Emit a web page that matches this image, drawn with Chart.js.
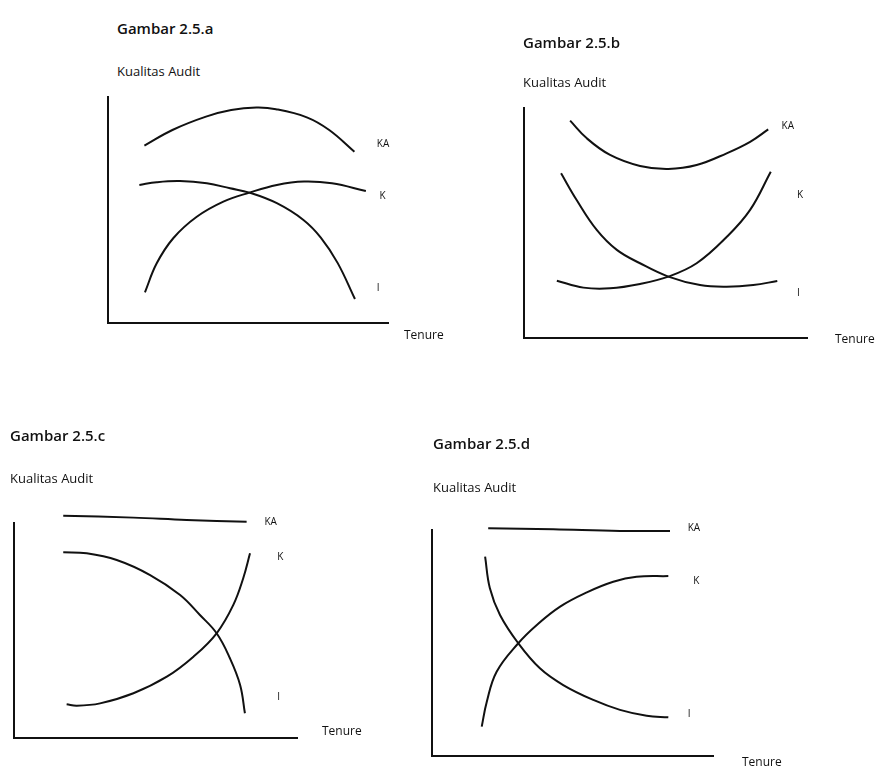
<!DOCTYPE html>
<html lang="id">
<head>
<meta charset="utf-8">
<title>Gambar 2.5 Kualitas Audit dan Tenure</title>
<script src="https://cdn.jsdelivr.net/npm/chart.js@4.4.0/dist/chart.umd.min.js"></script>
<style>
  html, body { margin: 0; padding: 0; background: #fff; }
  #page { position: relative; width: 891px; height: 771px; overflow: hidden; font-family: "Open Sans", sans-serif; color: #111; }
  #page canvas { position: absolute; left: 0; top: 0; }
  .judul, .sumbu { position: absolute; line-height: 1; white-space: nowrap; transform: translateY(-50%); }
  .judul { font-size: 15px; font-weight: 600; }
  .sumbu { font-size: 13px; }
</style>
</head>
<body>
<div id="page"></div>
<script>
  // nama kurva: kualitas audit, kompetensi, independensi
  const namaKurva = ["KA", "K", "I"];

  // Gambar 2.5.a  (x = tenure, y = tingkat, skala 0-100)
  const aKA = [[13, 78.5], [23, 85.4], [35, 91.3], [44, 94.2], [53, 95.3], [60, 94.6], [71, 91], [79, 85.4], [88, 75.8]];
  const aK = [[13.2, 13.6], [17.4, 26.4], [23.3, 37.5], [31.7, 47], [41.2, 53.7], [50.5, 57.7], [60.3, 61.1], [70, 62.6], [80, 61.8], [92.1, 58.4]];
  const aI = [[11.2, 61.1], [17.4, 62.3], [25.7, 62.8], [35.3, 61.8], [43.6, 59.6], [50.5, 57.7], [60.3, 53], [69.8, 45.6], [76, 37.8], [82, 26.6], [88.2, 10.6]];

  // Gambar 2.5.b
  const bKA = [[16.3, 94.5], [22.2, 86.8], [30.4, 79.6], [41, 74.8], [51, 73.5], [61, 75.2], [71.6, 80.3], [79.9, 85.3], [86.3, 90.7]];
  const bK = [[11.6, 24.9], [21, 21.9], [30.4, 21.6], [41, 23.5], [51, 26.7], [61, 32.5], [71.6, 43.9], [79.9, 55.7], [87.2, 72.3]];
  const bI = [[13.1, 71.6], [18.6, 60], [25.7, 47], [32.8, 38.3], [41, 32.5], [51, 26.7], [62.2, 23], [71.6, 22.3], [81, 23], [89.5, 24.8]];

  // Gambar 2.5.c
  const cKA = [[17.4, 103.4], [42.2, 102.5], [61, 101.4], [82.2, 100.6]];
  const cK = [[18.6, 15.7], [22.2, 15], [30.4, 16.1], [42.2, 20.8], [54, 28.5], [63.4, 37.8], [71.6, 48.7], [77.5, 61.9], [81, 74.3], [83.4, 85.9]];
  const cI = [[17.4, 86.4], [25.7, 85.9], [36.3, 82.8], [48.1, 75.8], [58.7, 66.5], [65.7, 57.2], [71.6, 48.7], [76.3, 37.1], [79.9, 24.7], [81.6, 11.5]];

  // Gambar 2.5.d
  const dKA = [[20, 100.8], [43.2, 100.3], [66.9, 99.6], [84.7, 99.6]];
  const dK = [[17.7, 13], [19.5, 24], [23, 37.3], [30.7, 49.9], [37.3, 58], [45.6, 66.1], [55.1, 72.4], [64.5, 77.1], [72.8, 79.3], [84.1, 79.6]];
  const dI = [[18.9, 88.2], [20.6, 74.2], [24.2, 62.4], [30.7, 49.9], [38.4, 38.8], [46.7, 31.4], [57.4, 24.8], [66.9, 20.4], [76.4, 17.8], [84.1, 17.1]];

  const W = 891, H = 771;

  // letak tiap panel di halaman: kotak sumbu [kiri, atas, kanan, bawah], judul, label kurva, "Tenure"
  const panel = [
    { judul: "Gambar 2.5.a", kurva: [aKA, aK, aI], kotak: [108, 97, 388, 323], posJudul: [117, 28], posSub: [117, 71],
      tag: [[96, 79], [97, 56], [96, 15.5]], tenure: [404, 336] },
    { judul: "Gambar 2.5.b", kurva: [bKA, bK, bI], kotak: [524, 108, 807, 338], posJudul: [523, 42], posSub: [523, 82],
      tag: [[91, 92], [96.5, 62], [96.5, 19.6]], tenure: [835, 340] },
    { judul: "Gambar 2.5.c", kurva: [cKA, cK, cI], kotak: [14, 523, 297, 738], posJudul: [10, 435], posSub: [10, 478],
      tag: [[88.5, 100.6], [93, 84], [93, 19]], tenure: [322, 732] },
    { judul: "Gambar 2.5.d", kurva: [dKA, dK, dI], kotak: [432, 530, 713, 756], posJudul: [433, 443], posSub: [433, 487],
      tag: [[91, 101], [93, 77.5], [91, 18.6]], tenure: [742, 763] }
  ];

  // tulis nama kurva di ujung kanan dan "Tenure" di ujung sumbu x
  const teksPanel = {
    id: "teksPanel",
    afterDraw(chart, args, opts) {
      const { ctx, scales: { x, y } } = chart;
      ctx.save();
      ctx.fillStyle = "#111";
      ctx.textBaseline = "middle";
      ctx.font = '10px "Open Sans"';
      chart.data.datasets.forEach((ds, i) => {
        const [tx, ty] = opts.tag[i];
        ctx.fillText(ds.label, x.getPixelForValue(tx), y.getPixelForValue(ty));
      });
      ctx.font = '12px "Open Sans"';
      ctx.fillText("Tenure", opts.tenure[0], opts.tenure[1]);
      ctx.restore();
    }
  };

  const page = document.getElementById("page");

  function teks(kelas, isi, pos) {
    const el = document.createElement("div");
    el.className = kelas;
    el.textContent = isi;
    el.style.left = pos[0] + "px";
    el.style.top = pos[1] + "px";
    page.appendChild(el);
  }

  function sumbu() {
    return {
      type: "linear",
      min: 0,
      max: 100,
      ticks: { display: false },
      grid: { display: false, drawTicks: false },
      border: { display: true, color: "#111", width: 2 }
    };
  }

  panel.forEach((p) => {
    teks("judul", p.judul, p.posJudul);
    teks("sumbu", "Kualitas Audit", p.posSub);

    const kanvas = document.createElement("canvas");
    kanvas.width = W;
    kanvas.height = H;
    page.appendChild(kanvas);

    new Chart(kanvas.getContext("2d"), {
      type: "line",
      data: {
        datasets: p.kurva.map((titik, i) => ({
          label: namaKurva[i],
          data: titik.map(([x, y]) => ({ x, y })),
          borderColor: "#111",
          borderWidth: 2,
          pointRadius: 0,
          tension: 0.4,
          clip: false
        }))
      },
      options: {
        responsive: false,
        animation: false,
        events: [],
        layout: {
          padding: { left: p.kotak[0], top: p.kotak[1], right: W - p.kotak[2], bottom: H - p.kotak[3] }
        },
        plugins: {
          legend: { display: false },
          tooltip: { enabled: false },
          teksPanel: { tag: p.tag, tenure: p.tenure }
        },
        scales: { x: sumbu(), y: sumbu() }
      },
      plugins: [teksPanel]
    });
  });
</script>
</body>
</html>
